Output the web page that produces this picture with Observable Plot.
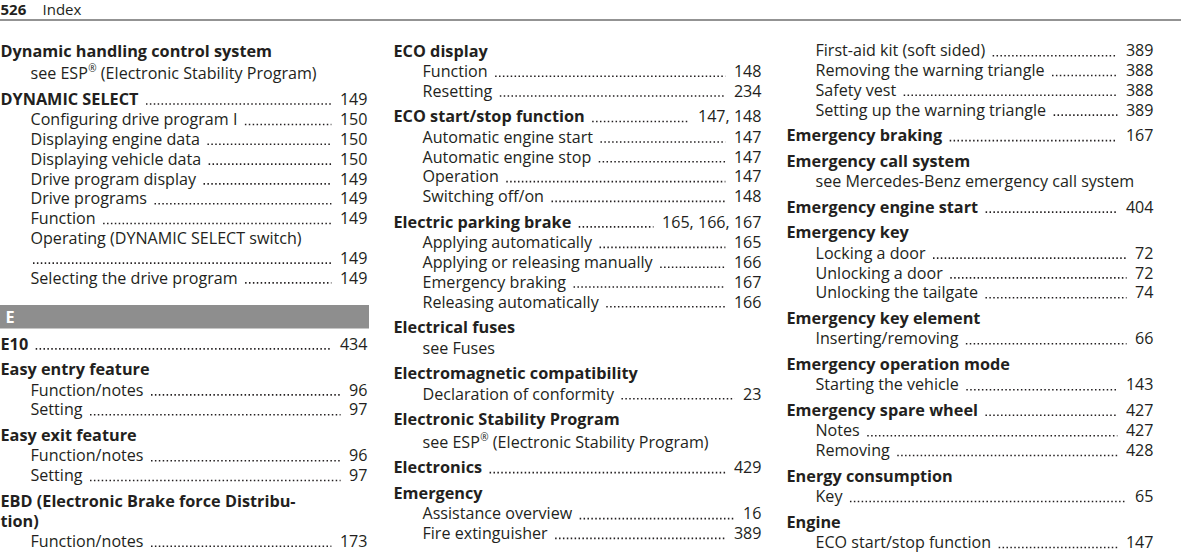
<!DOCTYPE html>
<html><head><meta charset="utf-8">
<script src="https://cdn.jsdelivr.net/npm/d3@7"></script>
<script src="https://cdn.jsdelivr.net/npm/@observablehq/plot@0.6"></script>
<style>body{margin:0;background:#fff}</style>
</head><body>
<div id="c"></div>
<script>
// ---- data (text content of the index page) ----
const pageNumber = "526";
const pageTitle = "Index";
const sectionLetter = "E";

const column1 = [
  ["Dynamic handling control system", "", "head"],
  ["see ESP® (Electronic Stability Program)", "", "see"],
  ["DYNAMIC SELECT", "149", "head"],
  ["Configuring drive program I", "150", "sub"],
  ["Displaying engine data", "150", "sub"],
  ["Displaying vehicle data", "150", "sub"],
  ["Drive program display", "149", "sub"],
  ["Drive programs", "149", "sub"],
  ["Function", "149", "sub"],
  ["Operating (DYNAMIC SELECT switch)", "", "sub"],
  ["", "149", "sub"],
  ["Selecting the drive program", "149", "sub"],
  [sectionLetter, "", "letter"],
  ["E10", "434", "head"],
  ["Easy entry feature", "", "head"],
  ["Function/notes", "96", "sub"],
  ["Setting", "97", "sub"],
  ["Easy exit feature", "", "head"],
  ["Function/notes", "96", "sub"],
  ["Setting", "97", "sub"],
  ["EBD (Electronic Brake force Distribu-", "", "head"],
  ["tion)", "", "cont"],
  ["Function/notes", "173", "sub"]
];

const column2 = [
  ["ECO display", "", "head"],
  ["Function", "148", "sub"],
  ["Resetting", "234", "sub"],
  ["ECO start/stop function", "147, 148", "head"],
  ["Automatic engine start", "147", "sub"],
  ["Automatic engine stop", "147", "sub"],
  ["Operation", "147", "sub"],
  ["Switching off/on", "148", "sub"],
  ["Electric parking brake", "165, 166, 167", "head"],
  ["Applying automatically", "165", "sub"],
  ["Applying or releasing manually", "166", "sub"],
  ["Emergency braking", "167", "sub"],
  ["Releasing automatically", "166", "sub"],
  ["Electrical fuses", "", "head"],
  ["see Fuses", "", "see"],
  ["Electromagnetic compatibility", "", "head"],
  ["Declaration of conformity", "23", "sub"],
  ["Electronic Stability Program", "", "head"],
  ["see ESP® (Electronic Stability Program)", "", "see"],
  ["Electronics", "429", "head"],
  ["Emergency", "", "head"],
  ["Assistance overview", "16", "sub"],
  ["Fire extinguisher", "389", "sub"]
];

const column3 = [
  ["First-aid kit (soft sided)", "389", "sub"],
  ["Removing the warning triangle", "388", "sub"],
  ["Safety vest", "388", "sub"],
  ["Setting up the warning triangle", "389", "sub"],
  ["Emergency braking", "167", "head"],
  ["Emergency call system", "", "head"],
  ["see Mercedes-Benz emergency call system", "", "see"],
  ["Emergency engine start", "404", "head"],
  ["Emergency key", "", "head"],
  ["Locking a door", "72", "sub"],
  ["Unlocking a door", "72", "sub"],
  ["Unlocking the tailgate", "74", "sub"],
  ["Emergency key element", "", "head"],
  ["Inserting/removing", "66", "sub"],
  ["Emergency operation mode", "", "head"],
  ["Starting the vehicle", "143", "sub"],
  ["Emergency spare wheel", "427", "head"],
  ["Notes", "427", "sub"],
  ["Removing", "428", "sub"],
  ["Energy consumption", "", "head"],
  ["Key", "65", "sub"],
  ["Engine", "", "head"],
  ["ECO start/stop function", "147", "sub"]
];

// ---- layout ----
const W = 1181, H = 552;
const FONT = '"Open Sans"';
const SIZE_REG = 16.1, SIZE_BOLD = 16.25, SIZE_SUP = 10;
const INK = "#231f20";
const columns = [
  {rows: column1, x0: 0, indent: 30, right: 367},
  {rows: column2, x0: 393, indent: 422, right: 761},
  {rows: column3, x0: 786, indent: 815, right: 1153}
];
const ctx = document.createElement("canvas").getContext("2d");
function measure(s, weight, size) {
  ctx.font = `${weight} ${size}px ${FONT}`;
  return ctx.measureText(s).width;
}

const regular = [], bold = [], sup = [], pages = [], leaders = [], bars = [], barLetters = [];
const y0 = 50.8;
columns.forEach(col => {
  let y = y0, prev = null;
  col.rows.forEach(([label, pg, kind], i) => {
    if (i > 0) {
      if (kind === "letter") y += 39;
      else if (kind === "head") y += prev === "letter" ? 27 : 25.5;
      else if (prev === "head") y += label.includes("®") ? 22.8 : 20.5;
      else y += 19.8;
    }
    prev = kind;
    if (kind === "letter") {
      bars.push({x1: col.x0, x2: col.right + 2, y1: y - 12, y2: y + 11.5});
      barLetters.push({x: col.x0 + 5, y, text: label});
      return;
    }
    const isBold = kind === "head" || kind === "cont";
    const x = isBold ? col.x0 : col.indent;
    let endX = x;
    if (label.includes("®")) {
      const [pre, post] = label.split("®");
      const w1 = measure(pre, 400, SIZE_REG);
      regular.push({x, y, text: pre});
      sup.push({x: x + w1 + 0.5, y: y - 5, text: "®"});
      const w2 = measure("®", 400, SIZE_SUP);
      regular.push({x: x + w1 + w2 + 0.5, y, text: post});
      endX = x + w1 + w2 + measure(post, 400, SIZE_REG);
    } else if (label) {
      (isBold ? bold : regular).push({x, y, text: label});
      endX = x + measure(label, isBold ? 700 : 400, isBold ? SIZE_BOLD : SIZE_REG);
    }
    if (pg) {
      pages.push({x: col.right, y, text: pg});
      const numStart = col.right - measure(pg, 400, SIZE_REG);
      const start = label ? endX + 8 : col.indent + 3;
      leaders.push({x1: start, x2: numStart - 8, y: y + 4.4});
    }
  });
});

const textOpts = {fontFamily: FONT, textAnchor: "start", lineAnchor: "middle", fill: INK};
const plot = Plot.plot({
  width: W, height: H, margin: 0,
  x: {domain: [0, W], range: [0, W]},
  y: {domain: [0, H], range: [0, H]},
  axis: null,
  style: {fontFamily: FONT, background: "#fff"},
  marks: [
    // running header
    Plot.text([pageNumber], {...textOpts, x: 0, y: 9.8, text: d => d, fontWeight: 700, fontSize: 15}),
    Plot.text([pageTitle], {...textOpts, x: 42, y: 9.8, text: d => d, fontSize: 15}),
    Plot.ruleY([19.5], {stroke: "#939393", strokeWidth: 2}),
    // section letter bar
    Plot.rect(bars, {x1: "x1", x2: "x2", y1: "y1", y2: "y2", fill: "#8e8e8e"}),
    Plot.text(barLetters, {...textOpts, x: "x", y: "y", text: "text", fill: "#fff", fontWeight: 700, fontSize: SIZE_BOLD}),
    // entries
    Plot.text(bold, {...textOpts, x: "x", y: "y", text: "text", fontWeight: 700, fontSize: SIZE_BOLD}),
    Plot.text(regular, {...textOpts, x: "x", y: "y", text: "text", fontWeight: 400, fontSize: SIZE_REG}),
    Plot.text(sup, {...textOpts, x: "x", y: "y", text: "text", fontWeight: 400, fontSize: SIZE_SUP}),
    Plot.ruleY(leaders, {x1: "x1", x2: "x2", y: "y", stroke: INK, strokeWidth: 1.6, strokeDasharray: "1.5,2.4"}),
    Plot.text(pages, {...textOpts, x: "x", y: "y", text: "text", textAnchor: "end", fontWeight: 400, fontSize: SIZE_REG})
  ]
});
document.getElementById("c").append(plot);
</script></body></html>
